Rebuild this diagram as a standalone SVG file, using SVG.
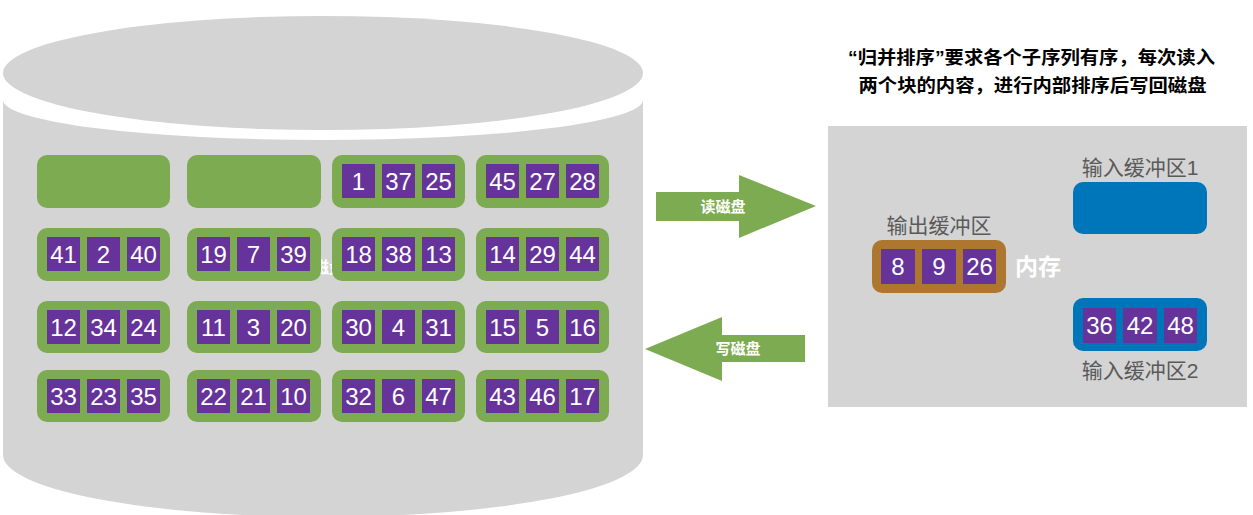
<svg xmlns="http://www.w3.org/2000/svg" width="1253" height="515" viewBox="0 0 1253 515">
  <style>
    .blk { fill: #7DAB51; }
    .cell { fill: #66339A; }
    .num { fill: #ffffff; font-family: "Liberation Sans", Arial, sans-serif; font-size: 24px; text-anchor: middle; }
    .lbl { fill: #5A5A5A; font-family: "Liberation Sans", "Noto Sans CJK SC", sans-serif; font-size: 21px; text-anchor: middle; }
    .arrowlbl { fill: #ffffff; font-family: "Noto Sans CJK SC", sans-serif; font-size: 15px; font-weight: bold; text-anchor: middle; }
    .note { fill: #000000; font-family: "Liberation Sans", "Noto Sans CJK SC", sans-serif; font-size: 18px; font-weight: bold; text-anchor: middle; }
  </style>
  <defs>
    <g id="cells">
      <rect class="cell" x="10" y="9" width="33" height="34"/>
      <rect class="cell" x="50" y="9" width="33" height="34"/>
      <rect class="cell" x="90" y="9" width="33" height="34"/>
    </g>
  </defs>
  <rect width="1253" height="515" fill="#ffffff"/>

  <!-- Disk cylinder -->
  <g id="disk">
    <path d="M3,100 A320,40 0 0 0 643,100 L643,455 A320,62 0 0 1 3,455 Z" fill="#D4D4D4"/>
    <ellipse cx="323" cy="73" rx="320" ry="57" fill="#D4D4D4"/>
    <text x="313" y="273" fill="#ffffff" font-family="Noto Sans CJK SC, sans-serif" font-size="16" font-weight="bold">磁盘</text>
  </g>

  <!-- Disk blocks -->
  <g id="blk-1-1" transform="translate(37,155)"><rect class="blk" width="133" height="53" rx="10"/></g>
  <g id="blk-1-2" transform="translate(187,155)"><rect class="blk" width="134" height="53" rx="10"/></g>
  <g id="blk-1-3" transform="translate(332,155)"><rect class="blk" width="133" height="53" rx="10"/><use href="#cells"/>
    <text class="num" x="26.5" y="35">1</text><text class="num" x="66.5" y="35">37</text><text class="num" x="106.5" y="35">25</text></g>
  <g id="blk-1-4" transform="translate(476,155)"><rect class="blk" width="133" height="53" rx="10"/><use href="#cells"/>
    <text class="num" x="26.5" y="35">45</text><text class="num" x="66.5" y="35">27</text><text class="num" x="106.5" y="35">28</text></g>

  <g id="blk-2-1" transform="translate(37,228)"><rect class="blk" width="133" height="53" rx="10"/><use href="#cells"/>
    <text class="num" x="26.5" y="35">41</text><text class="num" x="66.5" y="35">2</text><text class="num" x="106.5" y="35">40</text></g>
  <g id="blk-2-2" transform="translate(187,228)"><rect class="blk" width="134" height="53" rx="10"/><use href="#cells"/>
    <text class="num" x="26.5" y="35">19</text><text class="num" x="66.5" y="35">7</text><text class="num" x="106.5" y="35">39</text></g>
  <g id="blk-2-3" transform="translate(332,228)"><rect class="blk" width="133" height="53" rx="10"/><use href="#cells"/>
    <text class="num" x="26.5" y="35">18</text><text class="num" x="66.5" y="35">38</text><text class="num" x="106.5" y="35">13</text></g>
  <g id="blk-2-4" transform="translate(476,228)"><rect class="blk" width="133" height="53" rx="10"/><use href="#cells"/>
    <text class="num" x="26.5" y="35">14</text><text class="num" x="66.5" y="35">29</text><text class="num" x="106.5" y="35">44</text></g>

  <g id="blk-3-1" transform="translate(37,301)"><rect class="blk" width="133" height="52" rx="10"/><use href="#cells"/>
    <text class="num" x="26.5" y="35">12</text><text class="num" x="66.5" y="35">34</text><text class="num" x="106.5" y="35">24</text></g>
  <g id="blk-3-2" transform="translate(187,301)"><rect class="blk" width="134" height="52" rx="10"/><use href="#cells"/>
    <text class="num" x="26.5" y="35">11</text><text class="num" x="66.5" y="35">3</text><text class="num" x="106.5" y="35">20</text></g>
  <g id="blk-3-3" transform="translate(332,301)"><rect class="blk" width="133" height="52" rx="10"/><use href="#cells"/>
    <text class="num" x="26.5" y="35">30</text><text class="num" x="66.5" y="35">4</text><text class="num" x="106.5" y="35">31</text></g>
  <g id="blk-3-4" transform="translate(476,301)"><rect class="blk" width="133" height="52" rx="10"/><use href="#cells"/>
    <text class="num" x="26.5" y="35">15</text><text class="num" x="66.5" y="35">5</text><text class="num" x="106.5" y="35">16</text></g>

  <g id="blk-4-1" transform="translate(37,370)"><rect class="blk" width="133" height="52" rx="10"/><use href="#cells"/>
    <text class="num" x="26.5" y="35">33</text><text class="num" x="66.5" y="35">23</text><text class="num" x="106.5" y="35">35</text></g>
  <g id="blk-4-2" transform="translate(187,370)"><rect class="blk" width="134" height="52" rx="10"/><use href="#cells"/>
    <text class="num" x="26.5" y="35">22</text><text class="num" x="66.5" y="35">21</text><text class="num" x="106.5" y="35">10</text></g>
  <g id="blk-4-3" transform="translate(332,370)"><rect class="blk" width="133" height="52" rx="10"/><use href="#cells"/>
    <text class="num" x="26.5" y="35">32</text><text class="num" x="66.5" y="35">6</text><text class="num" x="106.5" y="35">47</text></g>
  <g id="blk-4-4" transform="translate(476,370)"><rect class="blk" width="133" height="52" rx="10"/><use href="#cells"/>
    <text class="num" x="26.5" y="35">43</text><text class="num" x="66.5" y="35">46</text><text class="num" x="106.5" y="35">17</text></g>

  <!-- Connectors (block arrows) -->
  <g id="connectors">
    <polygon points="656,192 739,192 739,175 816,206 739,238 739,221 656,221" fill="#7DAB51"/>
    <text class="arrowlbl" x="723" y="212">读磁盘</text>
    <polygon points="645,349 722,317 722,335 805,335 805,362 722,362 722,381" fill="#7DAB51"/>
    <text class="arrowlbl" x="738" y="354">写磁盘</text>
  </g>

  <!-- Note -->
  <g id="note">
    <text class="note" x="1031.5" y="64" textLength="367" lengthAdjust="spacingAndGlyphs">“归并排序”要求各个子序列有序，每次读入</text>
    <text class="note" x="1032.5" y="92" textLength="348" lengthAdjust="spacingAndGlyphs">两个块的内容，进行内部排序后写回磁盘</text>
  </g>

  <!-- Memory -->
  <g id="memory">
    <rect x="828" y="126" width="419" height="281" fill="#D4D4D4"/>
    <text x="1015" y="275" fill="#ffffff" font-family="Noto Sans CJK SC, sans-serif" font-size="23" font-weight="bold">内存</text>
  </g>

  <g id="output-buffer">
    <text class="lbl" x="939" y="233">输出缓冲区</text>
    <rect x="872" y="240" width="134" height="53" rx="10" fill="#AE772F"/>
    <rect class="cell" x="881" y="249" width="34" height="35"/>
    <rect class="cell" x="922" y="249" width="34" height="35"/>
    <rect class="cell" x="963" y="249" width="33" height="35"/>
    <text class="num" x="898" y="275">8</text>
    <text class="num" x="939" y="275">9</text>
    <text class="num" x="979.5" y="275">26</text>
  </g>

  <g id="input-buffer-1">
    <text class="lbl" x="1140" y="175">输入缓冲区1</text>
    <rect x="1073" y="182" width="134" height="52" rx="10" fill="#0076BA"/>
  </g>

  <g id="input-buffer-2">
    <rect x="1073" y="298" width="134" height="53" rx="10" fill="#0076BA"/>
    <rect class="cell" x="1083" y="308" width="33" height="35"/>
    <rect class="cell" x="1123" y="308" width="34" height="35"/>
    <rect class="cell" x="1164" y="308" width="33" height="35"/>
    <text class="num" x="1099.5" y="334">36</text>
    <text class="num" x="1140" y="334">42</text>
    <text class="num" x="1180.5" y="334">48</text>
    <text class="lbl" x="1140" y="378">输入缓冲区2</text>
  </g>
</svg>
